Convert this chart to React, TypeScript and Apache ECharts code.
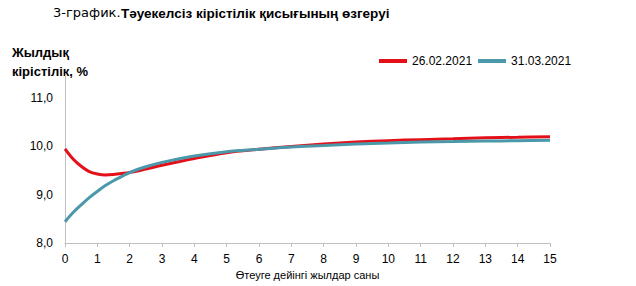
import React, { useEffect, useRef } from "react";
import * as echarts from "echarts";

const xValues = [0, 0.25, 0.5, 0.75, 1, 1.25, 1.5, 2, 2.5, 3, 4, 5, 6, 7, 8, 9, 10, 11, 12, 13, 14, 15];
const series1Name = "26.02.2021";
const series1Values = [9.95, 9.74, 9.59, 9.48, 9.43, 9.41, 9.42, 9.46, 9.53, 9.61, 9.75, 9.87, 9.94, 10.0, 10.05, 10.09, 10.12, 10.14, 10.16, 10.18, 10.19, 10.2];
const series2Name = "31.03.2021";
const series2Values = [8.44, 8.63, 8.79, 8.94, 9.07, 9.19, 9.29, 9.46, 9.58, 9.67, 9.8, 9.89, 9.94, 9.99, 10.02, 10.05, 10.07, 10.09, 10.1, 10.11, 10.12, 10.13];

const titlePrefix = "3-график.";
const titleMain = "Тәуекелсіз кірістілік қисығының өзгеруі";
const yAxisTitleLines = ["Жылдық", "кірістілік, %"];
const xAxisTitle = "Өтеуге дейінгі жылдар саны";

const FONT = "Liberation Sans, Arial, sans-serif";

export default function App() {
  const ref = useRef<HTMLDivElement>(null);
  useEffect(() => {
    if (!ref.current) return;
    const chart = echarts.init(ref.current, undefined, { renderer: "svg" });
    const toPairs = (vals: number[]) => xValues.map((x, i) => [x, vals[i]]);
    chart.setOption({
      animation: false,
      backgroundColor: "#ffffff",
      textStyle: { fontFamily: FONT },
      graphic: [
        {
          type: "text",
          x: 53,
          y: 6,
          style: {
            text: titlePrefix,
            fontSize: 13,
            fontFamily: "DejaVu Sans, sans-serif",
            fontWeight: "normal",
            fill: "#000",
          },
        },
        {
          type: "text",
          x: 121,
          y: 6,
          style: {
            text: titleMain,
            fontSize: 13.5,
            fontFamily: FONT,
            fontWeight: "bold",
            fill: "#000",
          },
        },
        {
          type: "text",
          x: 12,
          y: 43,
          style: {
            text: yAxisTitleLines.join("\n"),
            fontSize: 13,
            fontWeight: "bold",
            fontFamily: FONT,
            fill: "#000",
            lineHeight: 19,
          },
        },
      ],
      legend: {
        top: 50,
        left: 374,
        itemWidth: 28,
        itemHeight: 4,
        itemGap: 6,
        icon: "rect",
        textStyle: { fontSize: 12, color: "#000", fontFamily: FONT },
        data: [series1Name, series2Name],
      },
      grid: { left: 65, right: 86, top: 74, bottom: 43, containLabel: false },
      xAxis: {
        type: "value",
        min: 0,
        max: 15,
        interval: 1,
        name: xAxisTitle,
        nameLocation: "middle",
        nameGap: 26,
        nameTextStyle: { fontSize: 11, color: "#000", fontFamily: FONT },
        axisLine: { show: true, lineStyle: { color: "#bfbfbf", width: 1 } },
        axisTick: { show: true, length: 4, lineStyle: { color: "#bfbfbf" } },
        axisLabel: { fontSize: 12, color: "#000", margin: 10, fontFamily: FONT },
        splitLine: { show: false },
      },
      yAxis: {
        type: "value",
        min: 8,
        max: 11.5,
        interval: 1,
        axisLine: { show: true, lineStyle: { color: "#bfbfbf", width: 1 } },
        axisTick: { show: false },
        axisLabel: {
          fontSize: 12,
          color: "#000",
          margin: 12,
          fontFamily: FONT,
          showMaxLabel: false,
          formatter: (v: number) => v.toFixed(1).replace(".", ","),
        },
        splitLine: { show: false },
      },
      series: [
        {
          name: series1Name,
          type: "line",
          data: toPairs(series1Values),
          smooth: 0.35,
          showSymbol: false,
          symbol: "none",
          lineStyle: { color: "#e3101a", width: 3 },
          itemStyle: { color: "#e3101a" },
          z: 2,
        },
        {
          name: series2Name,
          type: "line",
          data: toPairs(series2Values),
          smooth: 0.35,
          showSymbol: false,
          symbol: "none",
          lineStyle: { color: "#4a98aa", width: 3 },
          itemStyle: { color: "#4a98aa" },
          z: 3,
        },
      ],
    });
    return () => chart.dispose();
  }, []);
  return <div ref={ref} style={{ width: 636, height: 286, position: "absolute", left: 0, top: 0 }} />;
}
